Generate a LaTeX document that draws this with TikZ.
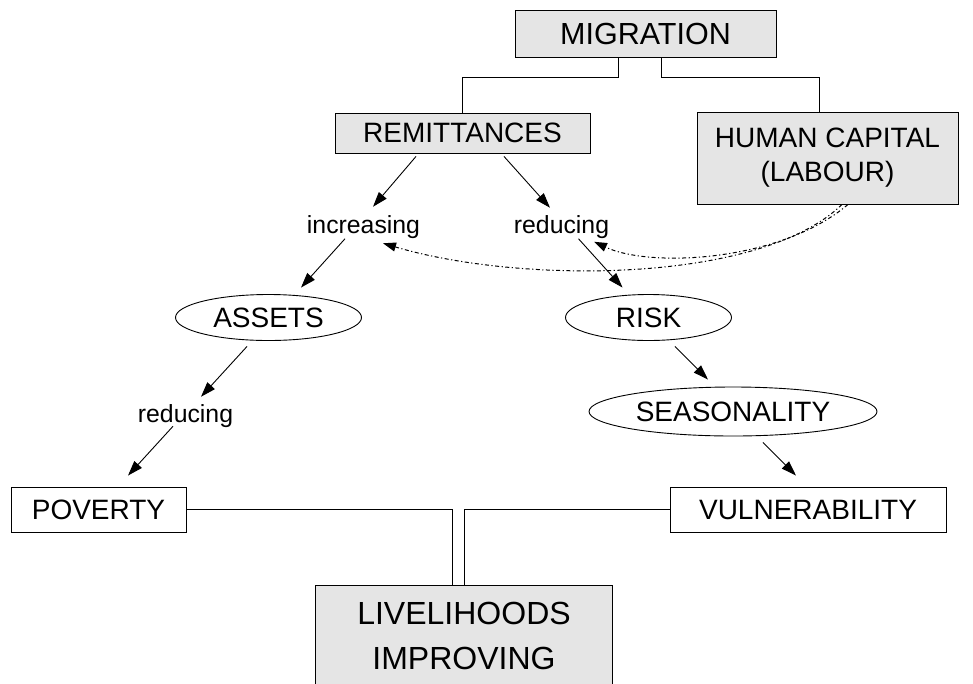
\documentclass[tikz,border=0pt]{standalone}
\usepackage{fontspec}
\setmainfont{Liberation Sans}
\usetikzlibrary{arrows.meta,shapes.geometric}
\definecolor{boxgray}{HTML}{E5E5E5}

\begin{document}
\begin{tikzpicture}[x=1pt, y=-1pt,
  box/.style={draw, line width=0.9pt, inner sep=0pt, align=center,
              font=\fontsize{28}{34}\selectfont},
  grey/.style={box, fill=boxgray},
  oval/.style={draw, line width=0.9pt, ellipse, inner sep=0pt,
               font=\fontsize{28}{34}\selectfont},
  verb/.style={inner sep=0pt, font=\fontsize{24.8}{28}\selectfont},
  arr/.style={line width=0.9pt, -{Triangle[length=15pt,width=10pt]}},
  link/.style={line width=0.9pt},
  dotarr/.style={line width=1pt, dash pattern=on 4pt off 2.5pt on 1.2pt off 2.5pt,
                 -{Triangle[length=13pt,width=9pt]}},
  ]
  \useasboundingbox (0,0) rectangle (973,683);
  \clip (0,0) rectangle (973,683);

  % top row
  \node[grey, minimum width=261, minimum height=47, font=\fontsize{30.5}{36}\selectfont]
    (migr) at (645.5,33.5) {MIGRATION};
  \node[grey, minimum width=255, minimum height=40] (remit) at (462.5,133) {REMITTANCES};
  \node[grey, minimum width=261, minimum height=92] (human) at (827.5,158)
    {HUMAN CAPITAL\\(LABOUR)};

  % middle
  \node[verb] (incr) at (363.5,227) {increasing};
  \node[verb] (redu) at (561.5,227) {reducing};
  \node[oval, minimum width=186, minimum height=46] (assets) at (268.5,317.5) {ASSETS};
  \node[oval, minimum width=166, minimum height=46] (risk) at (648.5,317.5) {RISK};
  \node[verb] (redpov) at (185.5,416) {reducing};
  \node[oval, minimum width=288, minimum height=49] (season) at (733,411.5) {SEASONALITY};

  % bottom
  \node[box, minimum width=175, minimum height=45] (pov) at (98.5,509.5) {POVERTY};
  \node[box, minimum width=276, minimum height=45] (vuln) at (808,509.5) {VULNERABILITY};
  \node[box, draw=none, fill=boxgray, minimum width=296, minimum height=100,
        font=\fontsize{32}{45}\selectfont] (live) at (464,636) {LIVELIHOODS\\IMPROVING};
  \draw[link] (live.south west) |- (live.north east) -- (live.south east);

  % tree lines
  \draw[link] ([xshift=-27pt]migr.south) -- ++(0,20) -| (remit.north);
  \draw[link] ([xshift=16pt]migr.south) -- ++(0,20) -| ([xshift=-8.5pt]human.north);
  \draw[link] (pov.east) -| ([xshift=-12pt]live.north);
  \draw[link] (vuln.west) -| (live.north);

  % arrows
  \draw[arr] ([shift={(-46.5,3)}]remit.south) -- ([shift={(9.5,-8.5)}]incr.north);
  \draw[arr] ([shift={(41.5,3)}]remit.south) -- ([shift={(-11.5,-7.5)}]redu.north);
  \draw[arr] ([shift={(-18.5,0)}]incr.south) -- ([shift={(32.5,-6.5)}]assets.north);
  \draw[arr] ([shift={(17,0)}]redu.south) -- ([shift={(-26,-6.5)}]risk.north);
  \draw[arr] ([shift={(-21.5,5.5)}]assets.south) -- ([shift={(15.5,-7.5)}]redpov.north);
  \draw[arr] ([shift={(-12.5,-1.5)}]redpov.south) -- ([shift={(29.5,-11)}]pov.north);
  \draw[arr] ([shift={(26.5,5.5)}]risk.south) -- ([shift={(-25,-7)}]season.north);
  \draw[arr] ([shift={(30,6)}]season.south) -- ([shift={(-12,-11)}]vuln.north);

  % human capital feeds both
  \draw[dotarr] ([xshift=20.5pt]human.south) .. controls (780,262) and (650,268)
    .. ([shift={(32.5,3)}]redu.south);
  \draw[dotarr] ([xshift=14.5pt]human.south) .. controls (760,284) and (520,284)
    .. ([shift={(19.5,4.5)}]incr.south);
\end{tikzpicture}
\end{document}
